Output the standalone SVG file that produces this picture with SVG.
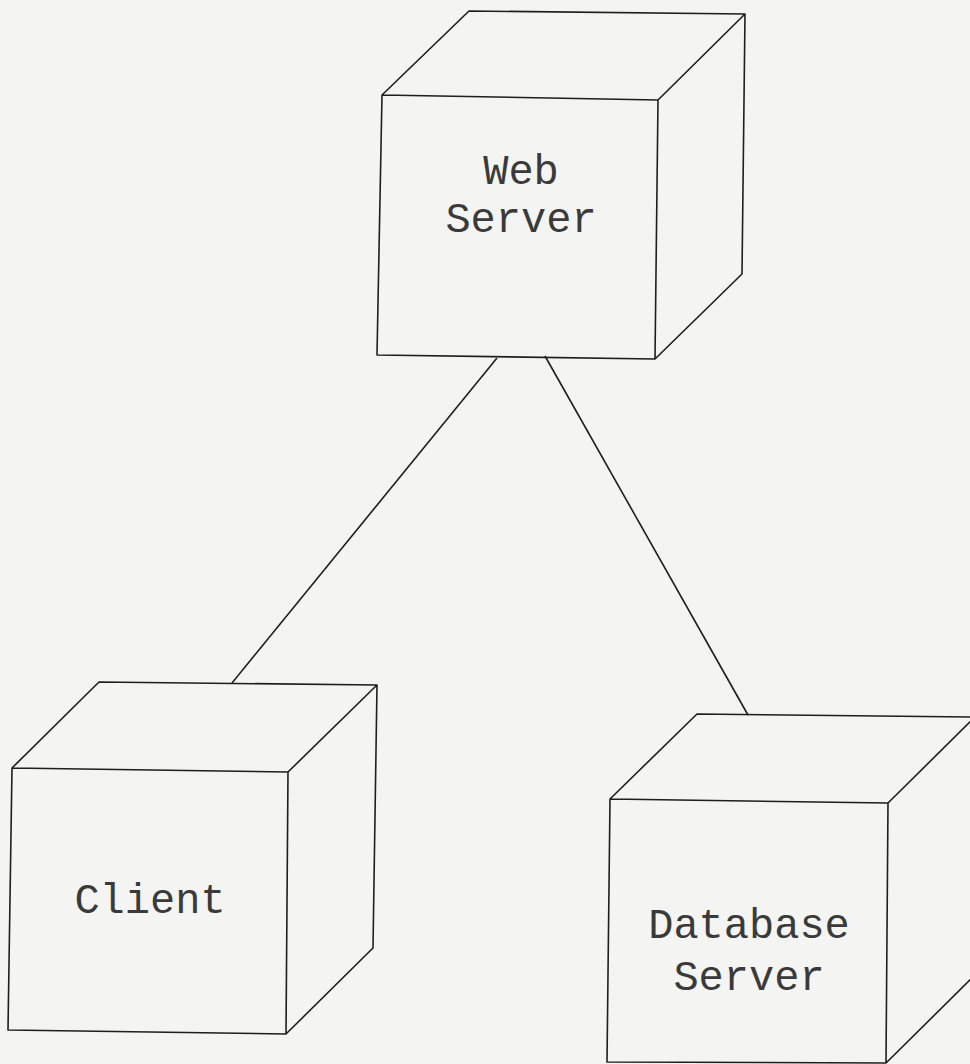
<svg xmlns="http://www.w3.org/2000/svg" width="970" height="1064" viewBox="0 0 970 1064">
<style>
.edge{fill:none;stroke:#1e1e1e;stroke-width:1.6;stroke-linejoin:round}
.lbl{font-family:"Liberation Mono","DejaVu Sans Mono",monospace;font-size:42px;fill:#3a3a3a;text-anchor:middle}
</style>
<rect width="970" height="1064" fill="#f4f4f2"/>
<g id="connectors">
<line class="edge" x1="497" y1="358" x2="232" y2="683"/>
<line class="edge" x1="545" y1="356" x2="748" y2="715"/>
</g>
<g id="web-server">
<path class="edge" d="M382,95 L658,100 L655,359 L377,355 Z M382,95 L469,11 L745,14 L658,100 M745,14 L742,274 L655,359"/>
<text class="lbl" x="521" y="184">Web</text>
<text class="lbl" x="521" y="232">Server</text>
</g>
<g id="client">
<path class="edge" d="M12,768 L288,772 L286,1034 L8,1030 Z M12,768 L99,682 L377,685 L288,772 M377,685 L373,948 L286,1034"/>
<text class="lbl" x="150" y="913">Client</text>
</g>
<g id="database-server">
<path class="edge" d="M610,799 L888,803 L886,1063 L607,1062 Z M610,799 L697,714 L975,717 L888,803 M975,717 L973,977 L886,1063"/>
<text class="lbl" x="749" y="938">Database</text>
<text class="lbl" x="749" y="990">Server</text>
</g>
</svg>
